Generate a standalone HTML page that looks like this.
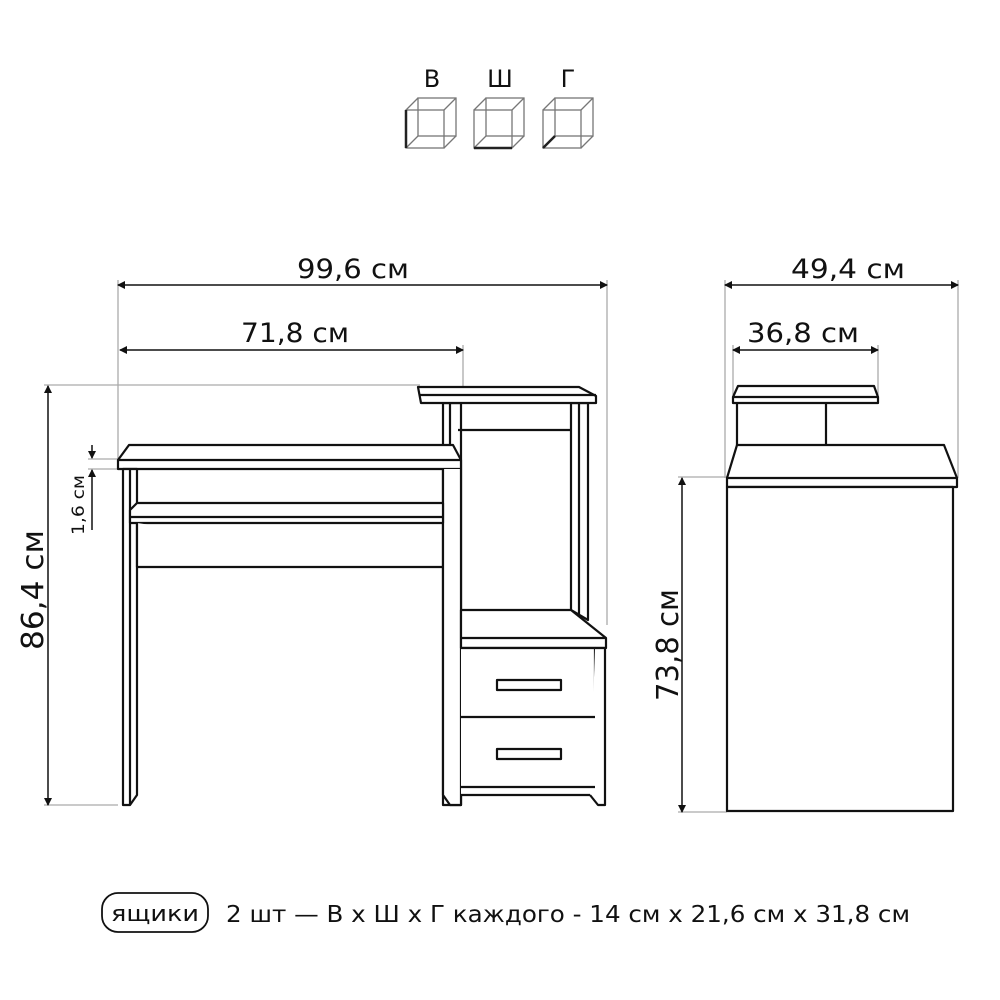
<!DOCTYPE html>
<html><head><meta charset="utf-8"><style>
body{margin:0;background:#fff}
svg{display:block}
text{font-family:"DejaVu Sans","Liberation Sans",sans-serif;fill:#111}
</style></head><body>
<svg width="1000" height="1000" viewBox="0 0 1000 1000">
<defs>
<marker id="a" markerWidth="8" markerHeight="8" refX="7" refY="4" orient="auto-start-reverse" markerUnits="userSpaceOnUse"><path d="M0,0L8,4L0,8Z" fill="#111"/></marker>
</defs>
<g font-size="24" text-anchor="middle" style="font-family:'Liberation Sans',sans-serif"><text x="432" y="87" fill="#333">В</text><text x="500" y="87" fill="#333">Ш</text><text x="568" y="87" fill="#333">Г</text></g>
<g fill="none" stroke="#777" stroke-width="1.3">
<g transform="translate(406,98)"><rect x="0" y="12" width="38" height="38"/><rect x="12" y="0" width="38" height="38"/><path d="M0,12L12,0M38,12L50,0M0,50L12,38M38,50L50,38"/></g>
<g transform="translate(474,98)"><rect x="0" y="12" width="38" height="38"/><rect x="12" y="0" width="38" height="38"/><path d="M0,12L12,0M38,12L50,0M0,50L12,38M38,50L50,38"/></g>
<g transform="translate(543,98)"><rect x="0" y="12" width="38" height="38"/><rect x="12" y="0" width="38" height="38"/><path d="M0,12L12,0M38,12L50,0M0,50L12,38M38,50L50,38"/></g>
</g>
<g stroke="#222" stroke-width="2.5"><path d="M406,110V148"/><path d="M474,148H512"/><path d="M543,148L555,136"/></g>

<g stroke="#aaa" stroke-width="1.3" fill="none">
<path d="M118,280V460M607,280V625M463,345V392"/>
<path d="M44,385H420M44,805H118M88,459H118M88,469H118"/>
<path d="M725,280V478M958,280V478M733,345V395M878,345V395"/>
<path d="M678,477H727M678,812H727"/>
</g>
<g stroke="#111" stroke-width="1.5" fill="none">
<path d="M118,285H607" marker-start="url(#a)" marker-end="url(#a)"/>
<path d="M120,350H463" marker-start="url(#a)" marker-end="url(#a)"/>
<path d="M725,285H958" marker-start="url(#a)" marker-end="url(#a)"/>
<path d="M733,350H878" marker-start="url(#a)" marker-end="url(#a)"/>
<path d="M48,386V805" marker-start="url(#a)" marker-end="url(#a)"/>
<path d="M682,478V812" marker-start="url(#a)" marker-end="url(#a)"/>
<path d="M92,445V458" marker-end="url(#a)"/>
<path d="M92,530V470" marker-end="url(#a)"/>
</g>
<g font-size="27" text-anchor="middle">
<text x="353" y="278" textLength="112" lengthAdjust="spacingAndGlyphs">99,6 см</text>
<text x="295" y="342" textLength="108" lengthAdjust="spacingAndGlyphs">71,8 см</text>
<text x="848" y="278" textLength="114" lengthAdjust="spacingAndGlyphs">49,4 см</text>
<text x="803" y="342" textLength="112" lengthAdjust="spacingAndGlyphs">36,8 см</text>
<text transform="translate(43,590) rotate(-90)" font-size="30" textLength="120" lengthAdjust="spacingAndGlyphs">86,4 см</text>
<text transform="translate(678,645) rotate(-90)" font-size="30" textLength="112" lengthAdjust="spacingAndGlyphs">73,8 см</text>
<text transform="translate(84,505) rotate(-90)" font-size="17" textLength="60" lengthAdjust="spacingAndGlyphs">1,6 см</text>
</g>

<g stroke="#111" stroke-width="2.2" fill="#fff" stroke-linejoin="round">
<path d="M443,403V805H461V403Z"/><path d="M450,403V805"/>
<path d="M571,403V610L588,620V403Z"/><path d="M579,403V615"/>
<path d="M458,430H571"/>
<path d="M418,387H579L596,396V403H421Z"/><path d="M419,395H596"/>
<path d="M129,445H453L461,460V469H118V460Z"/><path d="M118,460H461"/>
<path d="M123,469V805H130L137,795V469Z"/><path d="M130,469V805"/>
<path d="M443,469V795L450,805H461V469"/>
<path d="M137,503H443V523H130V510Z"/><path d="M130,517H443"/>
<path d="M137,523V567H443"/>
<path d="M461,610H571L606,638V648H461Z"/><path d="M461,638H606"/>
<path d="M461,648H595V795H461"/>
<path d="M595,648H605V805H598L590,795"/>
<path d="M461,717H595M461,787H595"/>
<rect x="497" y="680" width="64" height="10"/><rect x="497" y="749" width="64" height="10"/>
</g>
<g stroke="#111" stroke-width="2.2" fill="#fff" stroke-linejoin="round">
<path d="M737,403V445M826,403V445"/>
<path d="M738,386H874L878,397V403H733V397Z"/><path d="M733,397H878"/>
<path d="M737,445H944L957,478V487H727V478Z"/><path d="M727,478H957"/>
<rect x="727" y="487" width="226" height="324"/>
</g>

<rect x="102" y="893" width="106" height="39" rx="16" fill="none" stroke="#111" stroke-width="1.8"/>
<text x="155" y="921" font-size="22" text-anchor="middle" textLength="88" lengthAdjust="spacingAndGlyphs">ящики</text>
<text x="226" y="922" font-size="23" textLength="684" lengthAdjust="spacingAndGlyphs">2 шт — В x Ш x Г каждого - 14 см x 21,6 см x 31,8 см</text>
</svg>
</body></html>
